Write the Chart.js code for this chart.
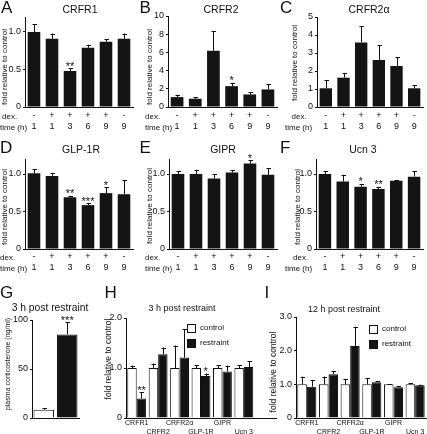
<!DOCTYPE html>
<html>
<head>
<meta charset="utf-8">
<script src="https://cdn.jsdelivr.net/npm/chart.js@4.4.1/dist/chart.umd.min.js"></script>
<style>
  body { margin: 0; background: #fff; }
  #fig { position: relative; width: 427px; height: 434px; overflow: hidden;
         font-family: 'Liberation Sans', Arial, sans-serif; color: #111; }
  canvas { position: absolute; }
  .t { position: absolute; white-space: nowrap; line-height: 1; }
  .letter { font-size: 17px; transform: translateY(-50%); }
  .title { transform: translate(-50%, -50%); }
  .ylab { transform: translate(-50%, -50%) rotate(-90deg); }
  .row { font-size: 8px; transform: translateY(-50%); }
  .leg { font-size: 8px; transform: translateY(-50%); }
  .box { position: absolute; width: 7px; height: 7px; border: 1px solid #111; }
</style>
</head>
<body>
<div id="fig"></div>
<script>
const FONT = "'Liberation Sans', Arial, sans-serif";
const INK = '#111';

// x rows for panels A-F
const dex = ['-', '+', '+', '+', '+', '-'];
const hours = ['1', '1', '3', '6', '9', '9'];

// A  CRFR1
const crfr1Mean = [1.00, 0.91, 0.48, 0.79, 0.87, 0.91];
const crfr1Sem = [0.10, 0.07, 0.04, 0.04, 0.035, 0.07];
const crfr1Sig = ['', '', '**', '', '', ''];
// B  CRFR2
const crfr2Mean = [1.09, 0.91, 6.18, 2.29, 1.38, 1.93];
const crfr2Sem = [0.26, 0.18, 2.18, 0.36, 0.26, 0.57];
const crfr2Sig = ['', '', '', '*', '', ''];
// C  CRFR2alpha
const crfr2aMean = [1.04, 1.63, 3.59, 2.61, 2.28, 1.04];
const crfr2aSem = [0.46, 0.26, 0.89, 0.83, 0.50, 0.18];
const crfr2aSig = ['', '', '', '', '', ''];
// D  GLP-1R
const glp1rMean = [1.01, 0.975, 0.69, 0.585, 0.745, 0.73];
const glp1rSem = [0.056, 0.04, 0.018, 0.026, 0.077, 0.19];
const glp1rSig = ['', '', '**', '***', '*', ''];
// E  GIPR
const giprMean = [1.00, 1.00, 0.94, 1.02, 1.14, 0.99];
const giprSem = [0.035, 0.057, 0.06, 0.033, 0.046, 0.09];
const giprSig = ['', '', '', '', '*', ''];
// F  Ucn 3
const ucn3Mean = [1.00, 0.90, 0.83, 0.80, 0.91, 0.965];
const ucn3Sem = [0.035, 0.09, 0.04, 0.03, 0.01, 0.075];
const ucn3Sig = ['', '', '*', '**', '', ''];

// G  plasma corticosterone, 3 h
const corticoMean = [8.5, 85.3];
const corticoSem = [1.4, 12.3];
const corticoSig = ['', '***'];

// H / I  restraint
const genes = ['CRFR1', 'CRFR2', 'CRFR2α', 'GLP-1R', 'GIPR', 'Ucn 3'];
const ctrl3hMean = [1, 1, 1, 1, 1, 1];
const ctrl3hSem = [0.047, 0.09, 0.45, 0.06, 0.06, 0.06];
const restr3hMean = [0.39, 1.275, 1.21, 0.84, 0.93, 1.02];
const restr3hSem = [0.13, 0.135, 0.57, 0.05, 0.12, 0.12];
const restr3hSig = ['**', '', '', '*', '', ''];
const ctrl12hMean = [1, 1, 1, 1, 1, 1];
const ctrl12hSem = [0.23, 0.23, 0.16, 0.18, 0.01, 0.04];
const restr12hMean = [0.93, 1.30, 2.14, 1.06, 0.91, 0.97];
const restr12hSem = [0.19, 0.10, 0.57, 0.03, 0.04, 0.02];

const fig = document.getElementById('fig');

// upper error bars + significance stars
const errorBars = {
  id: 'errorBars',
  afterDatasetsDraw(chart) {
    const ctx = chart.ctx;
    const y = chart.scales.y;
    chart.data.datasets.forEach((ds, di) => {
      if (!ds.sem) return;
      chart.getDatasetMeta(di).data.forEach((bar, i) => {
        if (ds.sem[i] == null) return;
        const top = y.getPixelForValue(ds.data[i] + ds.sem[i]);
        const x = Math.round(bar.x) + 0.5;
        ctx.save();
        ctx.strokeStyle = INK;
        ctx.lineWidth = 1;
        ctx.beginPath();
        ctx.moveTo(x, bar.y);
        ctx.lineTo(x, top);
        ctx.moveTo(x - 2, Math.round(top) + 0.5);
        ctx.lineTo(x + 2.5, Math.round(top) + 0.5);
        ctx.stroke();
        const sig = ds.stars && ds.stars[i];
        if (sig) {
          ctx.fillStyle = INK;
          ctx.font = '11px ' + FONT;
          ctx.textAlign = 'center';
          ctx.textBaseline = 'alphabetic';
          ctx.fillText(sig, bar.x, top + 1.5);
        }
        ctx.restore();
      });
    });
  }
};

function addText(cls, txt, x, y, size) {
  const d = document.createElement('div');
  d.className = 't ' + cls;
  d.textContent = txt;
  d.style.left = x + 'px';
  d.style.top = y + 'px';
  if (size) d.style.fontSize = size + 'px';
  fig.appendChild(d);
}

function addBox(x, y, fill) {
  const d = document.createElement('div');
  d.className = 'box';
  d.style.left = x + 'px';
  d.style.top = y + 'px';
  d.style.background = fill;
  fig.appendChild(d);
}

// box = canvas [x, y, w, h]; area = plot area [left, top, right, bottom] in page px
function addPanel(box, area, cfg) {
  const c = document.createElement('canvas');
  c.width = box[2];
  c.height = box[3];
  c.style.left = box[0] + 'px';
  c.style.top = box[1] + 'px';
  c.style.width = box[2] + 'px';
  c.style.height = box[3] + 'px';
  fig.appendChild(c);
  new Chart(c, {
    type: 'bar',
    data: { labels: cfg.labels, datasets: cfg.datasets },
    plugins: [errorBars],
    options: {
      responsive: false,
      animation: false,
      devicePixelRatio: 1,
      events: [],
      layout: { padding: { left: 0, bottom: 0, top: area[1] - box[1], right: box[0] + box[2] - area[2] } },
      plugins: { legend: { display: false }, tooltip: { enabled: false } },
      scales: {
        x: {
          grid: { display: false, drawTicks: false },
          border: { display: true, color: INK, width: 1 },
          ticks: {
            autoSkip: false, maxRotation: 0, minRotation: 0, color: INK,
            padding: cfg.xPad, font: cfg.xFont
          },
          afterFit: s => { s.height = box[1] + box[3] - area[3]; }
        },
        y: {
          min: 0,
          max: cfg.yMax,
          grid: { drawOnChartArea: false, tickLength: 2, color: INK },
          border: { display: true, color: INK, width: 1 },
          ticks: {
            stepSize: cfg.yStep, includeBounds: false, padding: 2, color: INK,
            font: { family: FONT, size: 9 }, callback: cfg.yFmt
          },
          afterFit: s => { s.width = area[0] - box[0]; }
        }
      }
    }
  });
}

const fmt1 = v => (v === 0 ? '0' : v.toFixed(1));
const fmt0 = v => String(v);
const timeLabels = dex.map((d, i) => [d, hours[i]]);

function timePanel(box, area, mean, sem, sig, yMax, yStep, yFmt, xPad) {
  addPanel(box, area, {
    labels: timeLabels,
    yMax, yStep, yFmt, xPad,
    xFont: { family: FONT, size: 9, lineHeight: '11px' },
    datasets: [{
      data: mean, sem: sem, stars: sig,
      backgroundColor: '#141414', borderColor: INK, borderWidth: 0,
      barPercentage: 0.7, categoryPercentage: 1
    }]
  });
}

timePanel([0, 0, 142, 140], [25, 17, 133, 107], crfr1Mean, crfr1Sem, crfr1Sig, 1.2, 0.5, fmt1, 3.5);
timePanel([140, 0, 142, 140], [168, 16, 277, 107], crfr2Mean, crfr2Sem, crfr2Sig, 10, 2, fmt0, 3.5);
timePanel([280, 0, 147, 140], [317, 17, 423, 107], crfr2aMean, crfr2aSem, crfr2aSig, 5, 1, fmt0, 3.5);
timePanel([0, 140, 142, 142], [25, 159, 133, 249], glp1rMean, glp1rSem, glp1rSig, 1.2, 0.5, fmt1, 2.5);
timePanel([140, 140, 142, 142], [169, 159, 277, 249], giprMean, giprSem, giprSig, 1.2, 0.5, fmt1, 2.5);
timePanel([280, 140, 147, 142], [316, 159, 423, 249], ucn3Mean, ucn3Sem, ucn3Sig, 1.2, 0.5, fmt1, 2.5);

// G
addPanel([0, 285, 105, 149], [32, 320, 79, 418], {
  labels: ['', ''],
  yMax: 100, yStep: 50, yFmt: fmt0, xPad: 0,
  xFont: { family: FONT, size: 7 },
  datasets: [{
    data: corticoMean, sem: corticoSem, stars: corticoSig,
    backgroundColor: ['#fff', '#141414'], borderColor: INK, borderWidth: 1,
    barPercentage: 0.87, categoryPercentage: 1
  }]
});

// H and I: staggered gene labels
const geneLabels = genes.map((g, i) => (i % 2 ? ['', g] : [g, '']));
const groupFont = { family: FONT, size: 7, lineHeight: '9.4px' };

addPanel([105, 285, 175, 149], [126, 318, 276, 418], {
  labels: geneLabels.concat(['']),
  yMax: 2, yStep: 1, yFmt: fmt1, xPad: 0, xFont: groupFont,
  datasets: [
    { data: ctrl3hMean, sem: ctrl3hSem, backgroundColor: '#fff', borderColor: INK, borderWidth: 1,
      barPercentage: 1, categoryPercentage: 0.88 },
    { data: restr3hMean, sem: restr3hSem, stars: restr3hSig, backgroundColor: '#141414', borderColor: INK,
      borderWidth: 1, barPercentage: 1, categoryPercentage: 0.88 }
  ]
});

addPanel([265, 285, 162, 149], [296, 317, 426, 418], {
  labels: geneLabels,
  yMax: 3, yStep: 1, yFmt: fmt1, xPad: 0, xFont: groupFont,
  datasets: [
    { data: ctrl12hMean, sem: ctrl12hSem, backgroundColor: '#fff', borderColor: INK, borderWidth: 1,
      barPercentage: 1, categoryPercentage: 0.88 },
    { data: restr12hMean, sem: restr12hSem, backgroundColor: '#141414', borderColor: INK,
      borderWidth: 1, barPercentage: 1, categoryPercentage: 0.88 }
  ]
});

// panel letters
[['A', 1, 6.5], ['B', 139.5, 6.5], ['C', 280, 6.5], ['D', 0, 146.5], ['E', 139.5, 146.5],
 ['F', 280, 146.5], ['G', 0, 291.5], ['H', 104.5, 291.5], ['I', 264.5, 291.5]]
  .forEach(l => addText('letter', l[0], l[1], l[2]));

// titles
[['CRFR1', 80, 9, 10.5], ['CRFR2', 221, 9, 10.5], ['CRFR2α', 369, 9, 10.5],
 ['GLP-1R', 81, 149, 10.5], ['GIPR', 223, 149, 10.5], ['Ucn 3', 363, 149, 10.5],
 ['3 h post restraint', 50, 307.5, 10.3], ['3 h post restraint', 182, 308, 9],
 ['12 h post restraint', 344, 309, 9]]
  .forEach(t => addText('title', t[0], t[1], t[2], t[3]));

// y axis titles
const fold = 'fold relative to control';
[[fold, 5, 67, 8], [fold, 149.7, 66.5, 8], [fold, 294.5, 63, 8],
 [fold, 5, 206.5, 8], [fold, 149.7, 206, 8], [fold, 297.8, 206.5, 8],
 ['plasma corticosterone (ng/ml)', 6.5, 364, 7], [fold, 108, 359, 8.5], [fold, 273, 371.5, 8.5]]
  .forEach(t => addText('ylab', t[0], t[1], t[2], t[3]));

// dex. / time (h) row headers
[[2, 0, 116.5], [145, 145, 116.5], [291.5, 285, 116.5],
 [0, 0, 257.5], [145, 145, 257.5], [293, 285, 257.5]]
  .forEach(r => {
    addText('row', 'dex.', r[0], r[2]);
    addText('row', 'time (h)', r[1], r[2] + 11);
  });

// legends for H and I
addBox(187, 323.5, '#fff');
addBox(187, 338.5, '#141414');
addText('leg', 'control', 200, 327.5);
addText('leg', 'restraint', 200, 342.5);
addBox(368.5, 324.5, '#fff');
addBox(368.5, 340, '#141414');
addText('leg', 'control', 382, 328.5);
addText('leg', 'restraint', 382, 344);
</script>
</body>
</html>
